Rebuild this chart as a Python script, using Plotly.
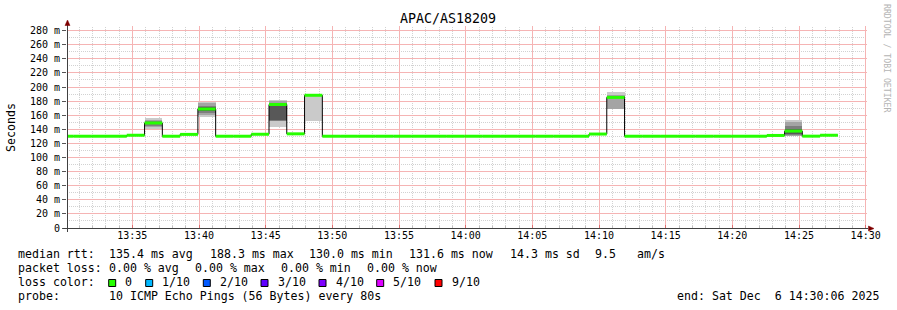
import plotly.graph_objects as go
from datetime import datetime, timedelta
import math

# ---------------- data ----------------
START = datetime(2025, 12, 6, 13, 29, 15)   # start of first 80 s step
STEP_SECONDS = 80
VIEW_START = datetime(2025, 12, 6, 13, 30, 6)
VIEW_END = datetime(2025, 12, 6, 14, 30, 6)
Y_MAX = 286.6

# median RTT (ms) per 80 s step
MEDIAN_MS = [
    130.2, 130.2, 130.2, 130.2, 131.6, 149.0, 130.2, 132.8, 168.8, 130.2,
    130.2, 133.0, 175.2, 133.6, 188.3, 130.2, 130.2, 130.2, 130.2, 130.2,
    130.2, 130.2, 130.2, 130.2, 130.2, 130.2, 130.2, 130.2, 130.2, 130.2,
    133.3, 185.3, 130.2, 130.2, 130.2, 130.2, 130.2, 130.2, 130.2, 130.2,
    131.3, 137.5, 130.3, 131.6,
]

# steps with visible smoke and their 10 sorted ping times (ms)
SMOKE_STEPS = [5, 8, 12, 14, 31, 41]
SMOKE_PINGS = [
    [140.0, 143.0, 145.0, 147.0, 148.5, 149.5, 150.5, 151.5, 153.0, 156.0],
    [158.0, 161.0, 162.5, 166.0, 168.5, 169.5, 171.0, 172.5, 177.0, 179.3],
    [144.0, 152.0, 152.5, 153.0, 174.5, 176.0, 177.0, 177.3, 179.7, 182.0],
    [152.0, 188.0, 188.1, 188.2, 188.3, 188.5, 188.7, 189.0, 189.3, 190.0],
    [168.5, 169.0, 184.5, 185.0, 185.2, 185.5, 186.0, 187.0, 189.0, 193.0],
    [130.0, 131.0, 132.0, 133.0, 137.0, 138.0, 140.0, 145.0, 150.5, 153.5],
]
SMOKE_COLORS = ["#cacaca", "#a4a4a4", "#7e7e7e", "#585858", "#323232"]

Y_TICKS = [0, 20, 40, 60, 80, 100, 120, 140, 160, 180, 200, 220, 240, 260, 280]
Y_TICK_TEXT = ["0", "20 m", "40 m", "60 m", "80 m", "100 m", "120 m", "140 m",
               "160 m", "180 m", "200 m", "220 m", "240 m", "260 m", "280 m"]
Y_MINOR = [10, 30, 50, 70, 90, 110, 130, 150, 170, 190, 210, 230, 250, 270]
X_MAJOR = ["13:35", "13:40", "13:45", "13:50", "13:55", "14:00",
           "14:05", "14:10", "14:15", "14:20", "14:25", "14:30"]

LOSS_LABELS = ["0", "1/10", "2/10", "3/10", "4/10", "5/10", "9/10"]
LOSS_COLORS = ["#26ff00", "#00b8ff", "#0059ff", "#5e00ff", "#7e00ff", "#dd00ff", "#ff0000"]

TITLE = "APAC/AS18209"
RTT_ITEMS = ["median rtt:", "135.4 ms avg", "188.3 ms max", "130.0 ms min",
             "131.6 ms now", "14.3 ms sd", "9.5", "am/s"]
LOSS_ITEMS = ["packet loss:", "0.00 % avg", "0.00 % max", "0.00 % min", "0.00 % now"]
PROBE_TEXT = "10 ICMP Echo Pings (56 Bytes) every 80s"
END_TEXT = "end: Sat Dec\u00a0\u00a06 14:30:06 2025"

# ---------------- geometry helpers ----------------
PL, PR, PT, PB = 67, 867, 26, 228
W, H = 897, 310
MGRID = "#f5b4b4"
GRID = "#d2d2d2"
DOTS = "1px,1px"


def px(x):
    return (x - PL) / (PR - PL)


def py(y):
    return (PB - y) / (PB - PT)


def snap(p):
    return math.floor(p) + 0.5


def time_to_pixel(tm):
    frac = (tm - VIEW_START).total_seconds() / (VIEW_END - VIEW_START).total_seconds()
    return PL + frac * (PR - PL)


def value_to_pixel(v):
    return PB - v / Y_MAX * (PB - PT)


def t(i):
    return START + timedelta(seconds=STEP_SECONDS * i)


n = len(MEDIAN_MS)
fig = go.Figure()

# smoke bands
for band in range(5):
    xs, bases, heights = [], [], []
    for step, pings in zip(SMOKE_STEPS, SMOKE_PINGS):
        lo, hi = pings[band], pings[9 - band]
        xs.append(t(step) + timedelta(seconds=STEP_SECONDS / 2))
        bases.append(lo)
        heights.append(hi - lo)
    fig.add_trace(go.Bar(x=xs, y=heights, base=bases, width=STEP_SECONDS * 1000,
                         marker=dict(color=SMOKE_COLORS[band], line=dict(width=0)),
                         hoverinfo="skip"))

# black step line
sx = [t(i) for i in range(n)] + [t(n)]
sy = MEDIAN_MS + [MEDIAN_MS[-1]]
fig.add_trace(go.Scatter(x=sx, y=sy, mode="lines", line=dict(color="#000000", width=1, shape="hv"),
                         hoverinfo="skip"))

# green median segments
gx, gy = [], []
for i, m in enumerate(MEDIAN_MS):
    gx += [t(i), t(i + 1), None]
    gy += [m, m, None]
fig.add_trace(go.Scatter(x=gx, y=gy, mode="lines", line=dict(color=LOSS_COLORS[0], width=3),
                         hoverinfo="skip"))

fig.update_layout(
    width=W, height=H,
    margin=dict(l=PL, r=W - PR, t=PT, b=H - PB),
    paper_bgcolor="white", plot_bgcolor="white",
    showlegend=False, barmode="overlay", bargap=0,
    font=dict(family="DejaVu Sans Mono", size=10, color="black"),
)
fig.update_xaxes(
    type="date", range=[VIEW_START, VIEW_END],
    tick0="2025-12-06 13:35:00", dtick=300000, tickformat="%H:%M",
    showgrid=False,
    ticks="inside", ticklen=3, tickcolor="#e07070",
    minor=dict(dtick=60000, tick0="2025-12-06 13:35:00", showgrid=False,
               ticks="inside", ticklen=2, tickcolor="#c0c0c0"),
    showline=False, zeroline=False, tickfont=dict(size=10),
)
fig.update_yaxes(
    range=[0, Y_MAX], tickmode="array", tickvals=Y_TICKS, ticktext=Y_TICK_TEXT,
    showgrid=False,
    ticks="outside", ticklen=4, tickcolor="#555555",
    showline=False, zeroline=False, tickfont=dict(size=10),
)

ann = []
shapes = []

# grid lines (minor gray dotted, major light red), snapped to whole pixels like rrdtool
m0 = datetime(2025, 12, 6, 13, 31)
for k in range(60):
    tm = m0 + timedelta(minutes=k)
    if tm.minute % 5 != 0 and tm < VIEW_END:
        xp = snap(time_to_pixel(tm))
        shapes.append(dict(type="line", xref="paper", yref="paper", layer="below",
                           x0=px(xp), x1=px(xp), y0=0, y1=1,
                           line=dict(color=GRID, width=1, dash=DOTS)))
for v in Y_MINOR:
    yp = snap(value_to_pixel(v))
    shapes.append(dict(type="line", xref="paper", yref="paper", layer="below",
                       x0=0, x1=1, y0=py(yp), y1=py(yp),
                       line=dict(color=GRID, width=1, dash=DOTS)))
for lab in X_MAJOR:
    hh, mm = map(int, lab.split(":"))
    xp = snap(time_to_pixel(datetime(2025, 12, 6, hh, mm)))
    shapes.append(dict(type="line", xref="paper", yref="paper", layer="below",
                       x0=px(xp), x1=px(xp), y0=0, y1=1,
                       line=dict(color=MGRID, width=1, dash="solid")))
for v in Y_TICKS[1:]:
    yp = snap(value_to_pixel(v))
    shapes.append(dict(type="line", xref="paper", yref="paper", layer="below",
                       x0=0, x1=1, y0=py(yp), y1=py(yp),
                       line=dict(color=MGRID, width=1, dash="solid")))

ann.append(dict(text=TITLE, x=px(448), y=py(19), xref="paper", yref="paper",
                xanchor="center", yanchor="middle", showarrow=False,
                font=dict(size=13.3)))
ann.append(dict(text="Seconds", x=px(11), y=py(127), xref="paper", yref="paper",
                xanchor="center", yanchor="middle", showarrow=False, textangle=-90,
                font=dict(size=11.6)))
ann.append(dict(text="RRDTOOL / TOBI OETIKER", x=px(887), y=py(59), xref="paper", yref="paper",
                xanchor="center", yanchor="middle", showarrow=False, textangle=90,
                font=dict(size=8.2, color="#b4b4b4")))

LEG = dict(size=11.6)
rtt_x = [16, 107.3, 208, 307.3, 407.3, 507.7, 593.3, 635]
for txt, x in zip(RTT_ITEMS, rtt_x):
    ann.append(dict(text=txt, x=px(x), y=py(254), xref="paper", yref="paper",
                    xanchor="left", yanchor="middle", showarrow=False, font=LEG))
loss_x = [16, 107.3, 193.3, 279.3, 365.3]
for txt, x in zip(LOSS_ITEMS, loss_x):
    ann.append(dict(text=txt, x=px(x), y=py(268), xref="paper", yref="paper",
                    xanchor="left", yanchor="middle", showarrow=False, font=LEG))
ann.append(dict(text="loss color:", x=px(16), y=py(282), xref="paper", yref="paper",
                xanchor="left", yanchor="middle", showarrow=False, font=LEG))
box_x = [108.7, 145.7, 203.3, 261, 319, 376.7, 435]
for lab, col, bx in zip(LOSS_LABELS, LOSS_COLORS, box_x):
    shapes.append(dict(type="rect", xref="paper", yref="paper",
                       x0=px(bx), x1=px(bx + 7), y0=py(286.5), y1=py(279.5),
                       fillcolor=col, line=dict(color="black", width=1)))
    ann.append(dict(text=lab, x=px(bx + 14.6), y=py(282), xref="paper", yref="paper",
                    xanchor="left", yanchor="middle", showarrow=False, font=LEG))
ann.append(dict(text="probe:", x=px(16), y=py(296), xref="paper", yref="paper",
                xanchor="left", yanchor="middle", showarrow=False, font=LEG))
ann.append(dict(text=PROBE_TEXT, x=px(107.3), y=py(296), xref="paper", yref="paper",
                xanchor="left", yanchor="middle", showarrow=False, font=LEG))
ann.append(dict(text=END_TEXT, x=px(880.5), y=py(296), xref="paper", yref="paper",
                xanchor="right", yanchor="middle", showarrow=False, font=LEG))

# axis lines and arrows
AX = "#404040"
shapes.append(dict(type="line", xref="paper", yref="paper", x0=px(63), x1=px(868),
                   y0=py(228.5), y1=py(228.5), line=dict(color=AX, width=1)))
shapes.append(dict(type="line", xref="paper", yref="paper", x0=px(67.5), x1=px(67.5),
                   y0=py(232), y1=py(23), line=dict(color=AX, width=1)))
ARROW = "#7f0000"
shapes.append(dict(type="path", xref="paper", yref="paper",
                   path=f"M {px(67.5)},{py(20)} L {px(65)},{py(25.5)} L {px(70)},{py(25.5)} Z",
                   fillcolor=ARROW, line=dict(color=ARROW, width=0.5)))
shapes.append(dict(type="path", xref="paper", yref="paper",
                   path=f"M {px(874)},{py(228.5)} L {px(868.5)},{py(226)} L {px(868.5)},{py(231)} Z",
                   fillcolor=ARROW, line=dict(color=ARROW, width=0.5)))

fig.update_layout(annotations=ann, shapes=shapes)
fig.write_html("out.html")
